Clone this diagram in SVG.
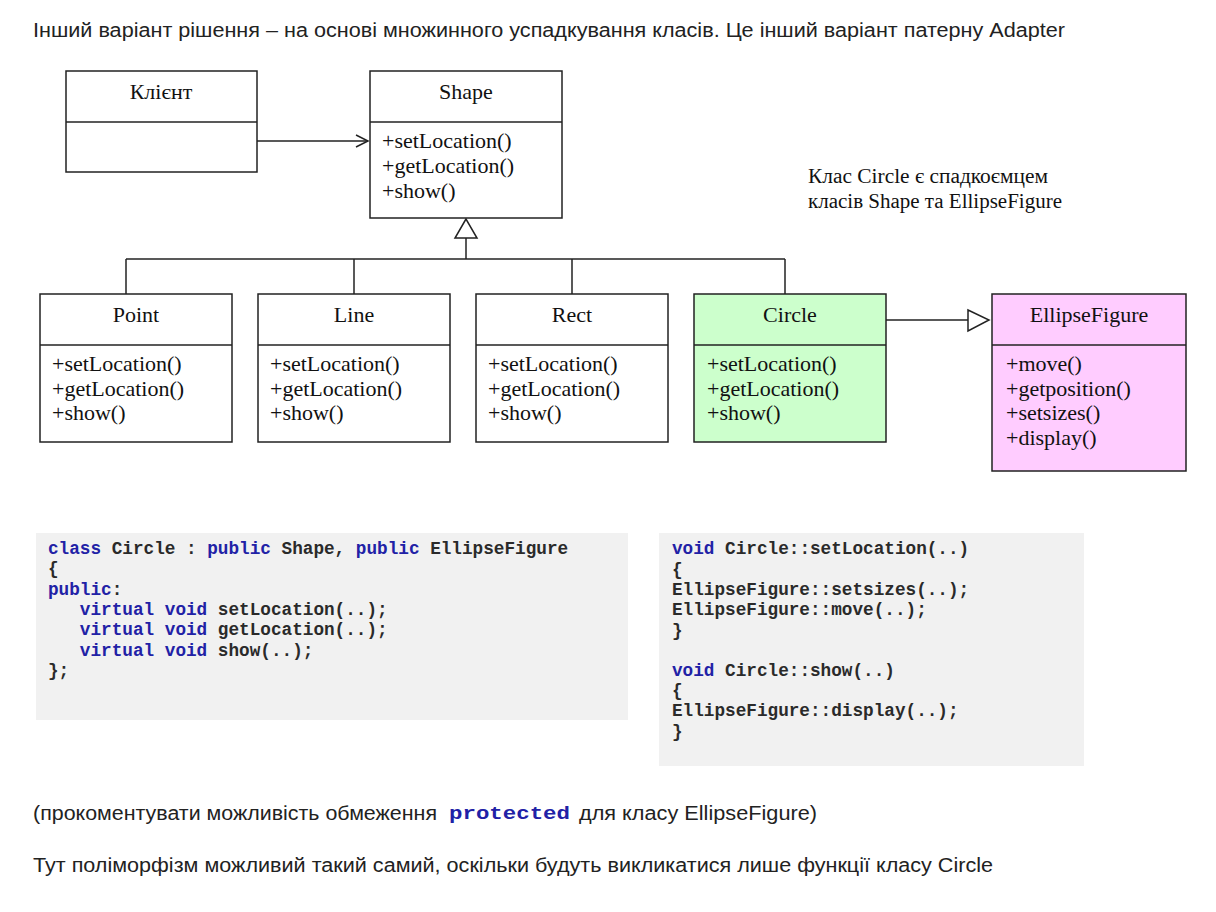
<svg xmlns="http://www.w3.org/2000/svg" width="1216" height="912" viewBox="0 0 1216 912">
<style>
.box{stroke:#222;stroke-width:1.5;fill:#fff}
.ln{stroke:#222;stroke-width:1.5;fill:none}
.t{font-family:"Liberation Serif","Times New Roman",serif;font-size:22px;fill:#111}
.tc{text-anchor:middle}
.s{font-family:"Liberation Sans",Arial,sans-serif;font-size:20px;fill:#222}
.c{font-family:"Liberation Mono","Courier New",monospace;font-size:17.7px;font-weight:bold;fill:#2a2a2a}
.k{fill:#2121a6}
.code{fill:#f1f1f1}
</style>
<defs>
<marker id="open" markerWidth="16" markerHeight="16" refX="13" refY="7" orient="auto" markerUnits="userSpaceOnUse">
<path d="M1,1 L13,7 L1,13" fill="none" stroke="#222" stroke-width="1.5"/>
</marker>
</defs>
<rect width="1216" height="912" fill="#fff"/>
<text class="s" x="33" y="37" textLength="1032" lengthAdjust="spacingAndGlyphs">Інший варіант рішення – на основі множинного успадкування класів. Це інший варіант патерну Adapter</text>

<g id="connectors">
<line class="ln" x1="257" y1="141" x2="368" y2="141" marker-end="url(#open)"/>
<polygon points="466,219 455,238 477,238" fill="#fff" stroke="#222" stroke-width="1.5"/>
<polyline class="ln" points="466,238 466,259"/>
<line class="ln" x1="126" y1="259" x2="785" y2="259"/>
<line class="ln" x1="126" y1="259" x2="126" y2="294"/>
<line class="ln" x1="354" y1="259" x2="354" y2="294"/>
<line class="ln" x1="572" y1="259" x2="572" y2="294"/>
<line class="ln" x1="785" y1="259" x2="785" y2="294"/>
<line class="ln" x1="886" y1="320" x2="968" y2="320"/>
<polygon points="968,310 989,320 968,331" fill="#fff" stroke="#222" stroke-width="1.5"/>
</g>

<g id="client">
<rect class="box" x="66" y="71" width="191" height="101"/>
<line class="ln" x1="66" y1="122" x2="257" y2="122"/>
<text class="t tc" x="161" y="99">Клієнт</text>
</g>

<g id="shape">
<rect class="box" x="370" y="71" width="192" height="147"/>
<line class="ln" x1="370" y1="122" x2="562" y2="122"/>
<text class="t tc" x="466" y="99">Shape</text>
<text class="t" x="382" y="148">+setLocation()</text>
<text class="t" x="382" y="173">+getLocation()</text>
<text class="t" x="382" y="198">+show()</text>
</g>

<g id="point">
<rect class="box" x="40" y="294" width="192" height="148"/>
<line class="ln" x1="40" y1="345" x2="232" y2="345"/>
<text class="t tc" x="136" y="322">Point</text>
<text class="t" x="52" y="371">+setLocation()</text>
<text class="t" x="52" y="396">+getLocation()</text>
<text class="t" x="52" y="420">+show()</text>
</g>

<g id="line">
<rect class="box" x="258" y="294" width="192" height="148"/>
<line class="ln" x1="258" y1="345" x2="450" y2="345"/>
<text class="t tc" x="354" y="322">Line</text>
<text class="t" x="270" y="371">+setLocation()</text>
<text class="t" x="270" y="396">+getLocation()</text>
<text class="t" x="270" y="420">+show()</text>
</g>

<g id="rect">
<rect class="box" x="476" y="294" width="192" height="148"/>
<line class="ln" x1="476" y1="345" x2="668" y2="345"/>
<text class="t tc" x="572" y="322">Rect</text>
<text class="t" x="488" y="371">+setLocation()</text>
<text class="t" x="488" y="396">+getLocation()</text>
<text class="t" x="488" y="420">+show()</text>
</g>

<g id="circle">
<rect class="box" x="694" y="294" width="192" height="148" style="fill:#ccffcc"/>
<line class="ln" x1="694" y1="345" x2="886" y2="345"/>
<text class="t tc" x="790" y="322">Circle</text>
<text class="t" x="707" y="371">+setLocation()</text>
<text class="t" x="707" y="396">+getLocation()</text>
<text class="t" x="707" y="420">+show()</text>
</g>

<g id="ellipsefigure">
<rect class="box" x="992" y="294" width="194" height="177" style="fill:#ffccff"/>
<line class="ln" x1="992" y1="345" x2="1186" y2="345"/>
<text class="t tc" x="1089" y="322">EllipseFigure</text>
<text class="t" x="1006" y="371">+move()</text>
<text class="t" x="1006" y="396">+getposition()</text>
<text class="t" x="1006" y="420">+setsizes()</text>
<text class="t" x="1006" y="445">+display()</text>
</g>

<g id="note">
<text class="t" x="808" y="183" style="font-size:20px" textLength="240" lengthAdjust="spacingAndGlyphs">Клас Circle є спадкоємцем</text>
<text class="t" x="808" y="208" style="font-size:20px" textLength="254" lengthAdjust="spacingAndGlyphs">класів Shape та EllipseFigure</text>
</g>

<g id="code1">
<rect class="code" x="36" y="533" width="592" height="187"/>
<text class="c" x="48" y="554"><tspan class="k">class</tspan> Circle : <tspan class="k">public</tspan> Shape, <tspan class="k">public</tspan> EllipseFigure</text>
<text class="c" x="48" y="574">{</text>
<text class="c" x="48" y="595"><tspan class="k">public</tspan>:</text>
<text class="c" x="48" y="615" xml:space="preserve">   <tspan class="k">virtual</tspan> <tspan class="k">void</tspan> setLocation(..);</text>
<text class="c" x="48" y="635" xml:space="preserve">   <tspan class="k">virtual</tspan> <tspan class="k">void</tspan> getLocation(..);</text>
<text class="c" x="48" y="656" xml:space="preserve">   <tspan class="k">virtual</tspan> <tspan class="k">void</tspan> show(..);</text>
<text class="c" x="48" y="676">};</text>
</g>

<g id="code2">
<rect class="code" x="659" y="533" width="425" height="233"/>
<text class="c" x="672" y="554"><tspan class="k">void</tspan> Circle::setLocation(..)</text>
<text class="c" x="672" y="575">{</text>
<text class="c" x="672" y="595">EllipseFigure::setsizes(..);</text>
<text class="c" x="672" y="615">EllipseFigure::move(..);</text>
<text class="c" x="672" y="636">}</text>
<text class="c" x="672" y="676"><tspan class="k">void</tspan> Circle::show(..)</text>
<text class="c" x="672" y="696">{</text>
<text class="c" x="672" y="716">EllipseFigure::display(..);</text>
<text class="c" x="672" y="737">}</text>
</g>

<text class="s" x="33" y="820" textLength="404" lengthAdjust="spacingAndGlyphs">(прокоментувати можливість обмеження</text>
<text class="c k" x="449" y="819" textLength="121" lengthAdjust="spacingAndGlyphs">protected</text>
<text class="s" x="579" y="820" textLength="238" lengthAdjust="spacingAndGlyphs">для класу EllipseFigure)</text>
<text class="s" x="33" y="872" textLength="960" lengthAdjust="spacingAndGlyphs">Тут поліморфізм можливий такий самий, оскільки будуть викликатися лише функції класу Circle</text>
</svg>
